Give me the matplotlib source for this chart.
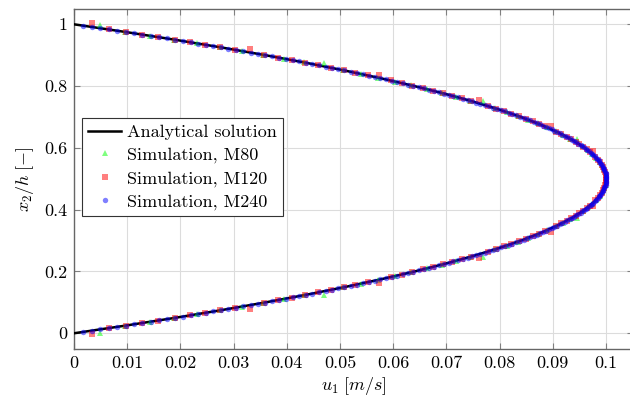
import matplotlib
matplotlib.use("Agg")
import matplotlib.pyplot as plt
from matplotlib.ticker import FuncFormatter, MultipleLocator
import numpy as np

plt.rcParams["font.family"] = "serif"
plt.rcParams["font.serif"] = ["cmr10"]
plt.rcParams["mathtext.fontset"] = "cm"
plt.rcParams["axes.formatter.use_mathtext"] = True
plt.rcParams["font.size"] = 13

# velocity profiles across the channel, u1 in mm/s, listed from x2/h = 0 to 1
u_analytical = [0, 9.75, 19, 27.75, 36, 43.75, 51, 57.75, 64, 69.75,
                75, 79.75, 84, 87.75, 91, 93.75, 96, 97.75, 99, 99.75,
                100,
                99.75, 99, 97.75, 96, 93.75, 91, 87.75, 84, 79.75, 75,
                69.75, 64, 57.75, 51, 43.75, 36, 27.75, 19, 9.75, 0]

u_m80 = [4.9, 9.6, 14.3, 18.8, 23.2, 27.4, 31.6, 35.6, 39.5, 43.3,
         46.9, 50.5, 53.9, 57.2, 60.4, 63.4, 66.3, 69.1, 71.8, 74.4,
         76.8, 79.1, 81.3, 83.4, 85.4, 87.2, 88.9, 90.5, 91.9, 93.3,
         94.5, 95.6, 96.6, 97.4, 98.2, 98.8, 99.3, 99.6, 99.9, 100.0,
         100.0, 99.9, 99.6, 99.3, 98.8, 98.2, 97.4, 96.6, 95.6, 94.5,
         93.3, 91.9, 90.5, 88.9, 87.2, 85.4, 83.4, 81.3, 79.1, 76.8,
         74.4, 71.8, 69.1, 66.3, 63.4, 60.4, 57.2, 53.9, 50.5, 46.9,
         43.3, 39.5, 35.6, 31.6, 27.4, 23.2, 18.8, 14.3, 9.6, 4.9]

u_m120 = [3.3, 6.5, 9.7, 12.8, 15.8, 18.9, 21.8, 24.7, 27.5, 30.3,
          33.1, 35.7, 38.4, 40.9, 43.4, 45.9, 48.3, 50.7, 52.9, 55.2,
          57.4, 59.5, 61.6, 63.6, 65.6, 67.5, 69.3, 71.1, 72.9, 74.6,
          76.2, 77.8, 79.3, 80.8, 82.2, 83.6, 84.9, 86.2, 87.4, 88.5,
          89.6, 90.6, 91.6, 92.6, 93.4, 94.3, 95.0, 95.7, 96.4, 97.0,
          97.5, 98.0, 98.5, 98.8, 99.2, 99.4, 99.7, 99.8, 99.9, 100.0,
          100.0, 99.9, 99.8, 99.7, 99.4, 99.2, 98.8, 98.5, 98.0, 97.5,
          97.0, 96.4, 95.7, 95.0, 94.3, 93.4, 92.6, 91.6, 90.6, 89.6,
          88.5, 87.4, 86.2, 84.9, 83.6, 82.2, 80.8, 79.3, 77.8, 76.2,
          74.6, 72.9, 71.1, 69.3, 67.5, 65.6, 63.6, 61.6, 59.5, 57.4,
          55.2, 52.9, 50.7, 48.3, 45.9, 43.4, 40.9, 38.4, 35.7, 33.1,
          30.3, 27.5, 24.7, 21.8, 18.9, 15.8, 12.8, 9.7, 6.5, 3.3]

u_m240 = [1.7, 3.3, 4.9, 6.5, 8.1, 9.7, 11.3, 12.8, 14.4, 15.9,
          17.4, 18.9, 20.4, 21.9, 23.3, 24.8, 26.2, 27.6, 29.0, 30.4,
          31.8, 33.2, 34.5, 35.9, 37.2, 38.5, 39.8, 41.1, 42.3, 43.6,
          44.8, 46.1, 47.3, 48.5, 49.7, 50.8, 52.0, 53.1, 54.3, 55.4,
          56.5, 57.6, 58.6, 59.7, 60.7, 61.8, 62.8, 63.8, 64.8, 65.8,
          66.7, 67.7, 68.6, 69.5, 70.5, 71.3, 72.2, 73.1, 74.0, 74.8,
          75.6, 76.4, 77.2, 78.0, 78.8, 79.5, 80.3, 81.0, 81.7, 82.4,
          83.1, 83.8, 84.5, 85.1, 85.7, 86.4, 87.0, 87.6, 88.1, 88.7,
          89.3, 89.8, 90.3, 90.8, 91.3, 91.8, 92.3, 92.7, 93.2, 93.6,
          94.0, 94.4, 94.8, 95.2, 95.5, 95.9, 96.2, 96.5, 96.8, 97.1,
          97.4, 97.6, 97.9, 98.1, 98.3, 98.6, 98.7, 98.9, 99.1, 99.2,
          99.4, 99.5, 99.6, 99.7, 99.8, 99.9, 99.9, 100.0, 100.0, 100.0,
          100.0, 100.0, 100.0, 99.9, 99.9, 99.8, 99.7, 99.6, 99.5, 99.4,
          99.2, 99.1, 98.9, 98.7, 98.6, 98.3, 98.1, 97.9, 97.6, 97.4,
          97.1, 96.8, 96.5, 96.2, 95.9, 95.5, 95.2, 94.8, 94.4, 94.0,
          93.6, 93.2, 92.7, 92.3, 91.8, 91.3, 90.8, 90.3, 89.8, 89.3,
          88.7, 88.1, 87.6, 87.0, 86.4, 85.7, 85.1, 84.5, 83.8, 83.1,
          82.4, 81.7, 81.0, 80.3, 79.5, 78.8, 78.0, 77.2, 76.4, 75.6,
          74.8, 74.0, 73.1, 72.2, 71.3, 70.5, 69.5, 68.6, 67.7, 66.7,
          65.8, 64.8, 63.8, 62.8, 61.8, 60.7, 59.7, 58.6, 57.6, 56.5,
          55.4, 54.3, 53.1, 52.0, 50.8, 49.7, 48.5, 47.3, 46.1, 44.8,
          43.6, 42.3, 41.1, 39.8, 38.5, 37.2, 35.9, 34.5, 33.2, 31.8,
          30.4, 29.0, 27.6, 26.2, 24.8, 23.3, 21.9, 20.4, 18.9, 17.4,
          15.9, 14.4, 12.8, 11.3, 9.7, 8.1, 6.5, 4.9, 3.3, 1.7]

# samples at the start of each 10-cell block sit off the cell centre
shift_m80 = [0, 10, 20, 30, 49, 59, 69, 79]
shift_m120 = [0, 10, 20, 30, 40, 50, 69, 79, 89, 99, 109, 119]
shift_m240 = []
block_shift = 0.011


def cell_positions(n, shifted):
    # cell centres of n cells between the walls, in x2/h
    y = np.linspace(0, 1, n + 2)[1:-1]
    for i in shifted:
        y[i] += block_shift if y[i] > 0.5 else -block_shift
    return y


series = [
    ("Simulation, M80", u_m80, shift_m80, "^", (0, 1, 0), 4.8),
    ("Simulation, M120", u_m120, shift_m120, "s", (1, 0, 0), 4.2),
    ("Simulation, M240", u_m240, shift_m240, "o", (0, 0, 1), 3.9),
]

fig = plt.figure(figsize=(6.3, 4.03), dpi=100)
ax = fig.add_axes([0.1175, 0.1347, 0.8867, 0.8433])

u = np.array(u_analytical) / 1000
ax.plot(u, np.linspace(0, 1, len(u)), color="black", lw=1.8,
        label="Analytical solution", zorder=3)

for name, vals, shifted, marker, color, size in series:
    u = np.array(vals) / 1000
    ax.plot(u, cell_positions(len(u), shifted), ls="none", marker=marker,
            ms=size, mew=0, color=color, alpha=0.5, label=name, zorder=4)

ax.set_xlim(0, 0.105)
ax.set_ylim(-0.05, 1.05)
ax.xaxis.set_major_locator(MultipleLocator(0.01))
ax.yaxis.set_major_locator(MultipleLocator(0.2))
fmt = FuncFormatter(lambda v, pos: "%g" % round(v, 6))
ax.xaxis.set_major_formatter(fmt)
ax.yaxis.set_major_formatter(fmt)

ax.grid(True, color="#dcdcdc", lw=0.8)
ax.set_axisbelow(True)
ax.tick_params(direction="in", length=4.5, width=0.8, color="#808080",
               top=True, right=True, pad=5)
for s in ax.spines.values():
    s.set_color("#666666")
    s.set_linewidth(1.0)

ax.set_xlabel(r"$u_1\;[m/s]$", labelpad=3)
ax.set_ylabel(r"$x_2/h\;[-]$", labelpad=6)

leg = ax.legend(loc="upper left", bbox_to_anchor=(0.0143, 0.679),
                borderaxespad=0, fancybox=False, framealpha=1,
                edgecolor="#333333", handlelength=1.8, handletextpad=0.35,
                labelspacing=0.4, borderpad=0.35)
leg.get_frame().set_linewidth(0.8)

fig.savefig("out.png", dpi=100)
